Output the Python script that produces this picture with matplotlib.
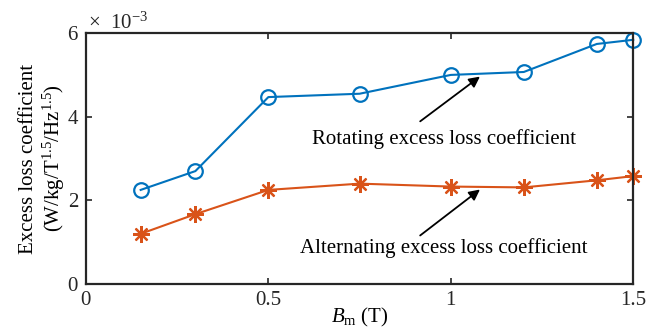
import numpy as np
import matplotlib.pyplot as plt
from matplotlib.ticker import ScalarFormatter

# dados
bm = [0.15, 0.3, 0.5, 0.75, 1.0, 1.2, 1.4, 1.5]
rotating = [2.25e-3, 2.70e-3, 4.47e-3, 4.55e-3, 5.00e-3, 5.07e-3, 5.74e-3, 5.84e-3]
alternating = [1.20e-3, 1.67e-3, 2.25e-3, 2.40e-3, 2.33e-3, 2.31e-3, 2.48e-3, 2.58e-3]
xticks = [0, 0.5, 1, 1.5]
yticks = [0, 2e-3, 4e-3, 6e-3]

plt.rcParams['font.family'] = 'Liberation Serif'
plt.rcParams['mathtext.fontset'] = 'custom'
plt.rcParams['mathtext.rm'] = 'Liberation Serif'
plt.rcParams['mathtext.it'] = 'Liberation Serif:italic'
fs = 15

fig = plt.figure(figsize=(6.61, 3.31), dpi=100)
ax = fig.add_axes([0.130, 0.142, 0.828, 0.758])

blue = '#0072BD'
orange = '#D95319'
ax.plot(bm, rotating, '-o', color=blue, lw=1.5, ms=10.5, mfc='none', mew=1.6, clip_on=False)
ax.plot(bm, alternating, '-', color=orange, lw=1.5, marker=(8, 2, 0), ms=12, mew=1.6, clip_on=False)

ax.set_xlim(0, 1.5)
ax.set_ylim(0, 6e-3)
ax.set_xticks(xticks)
ax.set_xticklabels(['0', '0.5', '1', '1.5'])
ax.set_yticks(yticks)
fmt = ScalarFormatter(useMathText=True)
fmt.set_powerlimits((-2, 2))
ax.yaxis.set_major_formatter(fmt)
ax.yaxis.get_offset_text().set_visible(False)
fig.text(0.133, 0.912, r'$\times$  10$^{\mathrm{-3}}$', fontsize=fs, color='#262626', va='baseline')

ax.tick_params(direction='in', length=4, width=1.2, top=True, right=True, colors='#262626',
               labelsize=fs, pad=5)
for s in ax.spines.values():
    s.set_linewidth(1.6)
    s.set_color('#262626')

ax.set_xlabel(r'$B_{\mathrm{m}}$ (T)', fontsize=fs, labelpad=-3)
ax.set_ylabel('Excess loss coefficient\n(W/kg/T$^{1.5}$/Hz$^{1.5}$)', fontsize=fs, labelpad=0,
              linespacing=1.15)

# anotações com setas
ax.annotate('', xy=(1.086, 5.0e-3), xytext=(0.91, 3.85e-3),
            arrowprops=dict(arrowstyle='-|>', color='black', lw=1.3, mutation_scale=16))
ax.text(0.98, 3.47e-3, 'Rotating excess loss coefficient', ha='center', va='center', fontsize=fs)
ax.annotate('', xy=(1.086, 2.30e-3), xytext=(0.91, 1.12e-3),
            arrowprops=dict(arrowstyle='-|>', color='black', lw=1.3, mutation_scale=16))
ax.text(0.98, 0.85e-3, 'Alternating excess loss coefficient', ha='center', va='center', fontsize=fs)

fig.savefig('out.png', dpi=100)
